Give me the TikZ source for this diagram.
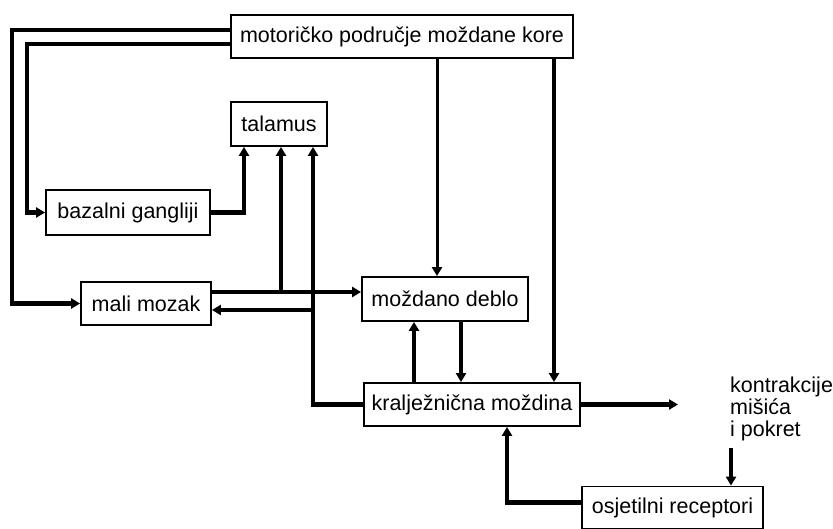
\documentclass[tikz,border=0pt]{standalone}
\usepackage{fontspec}
\setmainfont{Liberation Sans}
\usetikzlibrary{arrows.meta}

\begin{document}
\begin{tikzpicture}[x=1pt, y=-1pt,
  box/.style={rectangle, draw, black, line width=1.8pt, inner sep=0pt, font=\fontsize{21.5}{26}\selectfont},
  link/.style={line width=4.5pt},
  tip/.style={-{Triangle[length=9pt, width=10pt]}}]
\useasboundingbox (0,0) rectangle (833,529);
\draw
(402, 36.5) node[box, minimum width=342pt, minimum height=43pt](motor){motoričko područje moždane kore}
(279, 124) node[box, minimum width=96pt, minimum height=44pt](talamus){talamus}
(128, 212.5) node[box, minimum width=164pt, minimum height=45pt](bazal){bazalni gangliji}
(146, 303.5) node[box, minimum width=130pt, minimum height=43pt](mali){mali mozak}
(445, 299) node[box, minimum width=166pt, minimum height=44pt](deblo){moždano deblo}
(472, 404.5) node[box, minimum width=216pt, minimum height=43pt](kralj){kralježnična moždina}
(672.5, 507.5) node[box, minimum width=181pt, minimum height=42pt](osjet){osjetilni receptori}
(730, 377) node[anchor=north west, align=left, inner sep=0pt, font=\fontsize{21.5}{22}\selectfont](kontr){kontrakcije\\mišića\\i pokret};

\coordinate (split) at (281, 292);
\coordinate (ret) at (313, 310);
\coordinate (out) at (678, 404.5);
\coordinate (down) at ([shift={(1pt,-7pt)}]kontr.south west);

% od kore prema dolje
\draw[link, tip] ([yshift=6.5pt]motor.west) -| ([xshift=-68pt]mali.west) -- (mali.west);
\draw[link, tip] ([yshift=-7.5pt]motor.west) -| ([xshift=-18pt]bazal.west) -- (bazal.west);
\draw[link, tip, line width=3pt] ([xshift=35pt]motor.south) -- ([xshift=35pt]motor.south |- deblo.north);
\draw[link, tip, line width=4pt] ([xshift=152pt]motor.south) -- ([xshift=152pt]motor.south |- kralj.north);

% talamus
\draw[link, tip] (bazal.east) -| ([xshift=-35pt]talamus.south);
\draw[link] ([yshift=11.5pt]mali.east) -- (split);
\draw[link, tip] (split) -- ([yshift=7pt]deblo.west);
\draw[link, tip] (split) -- (split |- talamus.south);
\draw[link, tip] (kralj.west) -| ([xshift=34pt]talamus.south);
\draw[link, tip] (ret) -- ([yshift=-6.5pt]mali.east);

% deblo i mozdina
\draw[link, tip] ([xshift=-58pt]kralj.north) -- ([xshift=-58pt]kralj.north |- deblo.south);
\draw[link, tip] ([xshift=16pt]deblo.south) -- ([xshift=16pt]deblo.south |- kralj.north);
\draw[link, tip] (kralj.east) -- (out);

% povratna veza
\draw[link, tip] (down) -- (down |- osjet.north);
\draw[link, tip] ([yshift=5pt]osjet.west) -| ([xshift=35pt]kralj.south);

\end{tikzpicture}
\end{document}
